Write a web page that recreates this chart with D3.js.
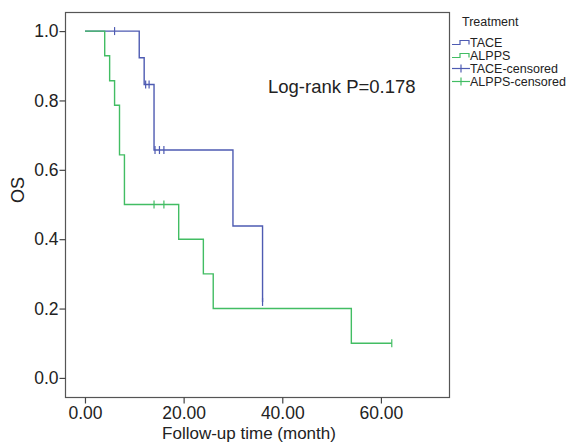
<!DOCTYPE html>
<html>
<head>
<meta charset="utf-8">
<script src="https://cdn.jsdelivr.net/npm/d3@7"></script>
<style>
  body { margin: 0; background: #fff; }
  svg text { font-family: Arial, "Liberation Sans", Helvetica, sans-serif; fill: #222; }
</style>
</head>
<body>
<div id="chart"></div>
<script>
// data
const groups = ["TACE", "ALPPS"];
const colors = ["#4e5bb2", "#42bd63"];

const taceTimes = [0, 11, 12, 14, 30, 36];
const taceSurv = [1.0, 0.923, 0.846, 0.657, 0.438, 0.219];
const taceCensored = [6, 12.3, 13, 14.2, 15.1, 16, 36];

const alppsTimes = [0, 4, 5, 6, 7, 8, 19, 24, 26, 54];
const alppsSurv = [1.0, 0.929, 0.857, 0.786, 0.643, 0.5, 0.4, 0.3, 0.2, 0.1];
const alppsCensored = [14, 16, 62.2];

const xTicks = [0, 20, 40, 60];
const yTicks = [0, 0.2, 0.4, 0.6, 0.8, 1.0];
const pValueText = "Log-rank P=0.178";
const legendLabels = ["TACE", "ALPPS", "TACE-censored", "ALPPS-censored"];

/** CONSTANTS */
const width = 574,
    height = 443,
    margin = { top: 12, bottom: 46, left: 65, right: 125 };

/** SCALES */
const xScale = d3.scaleLinear()
    .domain([-4.05, 73.8])
    .range([margin.left, width - margin.right]);

const yScale = d3.scaleLinear()
    .domain([-0.055, 1.055])
    .range([height - margin.bottom, margin.top]);

const svg = d3.select("#chart")
    .append("svg")
    .attr("width", width)
    .attr("height", height);

// frame
svg.append("rect")
    .attr("x", margin.left + 0.5)
    .attr("y", margin.top + 0.5)
    .attr("width", width - margin.right - margin.left)
    .attr("height", height - margin.bottom - margin.top)
    .attr("fill", "none")
    .attr("stroke", "#555")
    .attr("stroke-width", 1.2);

// axes
const yAxis = d3.axisLeft(yScale)
    .tickValues(yTicks)
    .tickFormat(d3.format(".1f"))
    .tickSize(6)
    .tickPadding(1);

const xAxis = d3.axisBottom(xScale)
    .tickValues(xTicks)
    .tickFormat(d3.format(".2f"))
    .tickSize(6)
    .tickPadding(3);

const gy = svg.append("g")
    .attr("transform", `translate(${margin.left + 0.5},0)`)
    .call(yAxis);
const gx = svg.append("g")
    .attr("transform", `translate(0,${height - margin.bottom + 0.5})`)
    .call(xAxis);

[gx, gy].forEach(g => {
    g.select(".domain").remove();
    g.selectAll(".tick line").attr("stroke", "#444").attr("stroke-width", 1.2);
    g.selectAll(".tick text").attr("font-size", 17.5).attr("fill", "#222");
});

// axis titles
svg.append("text")
    .attr("x", 249)
    .attr("y", 439)
    .attr("text-anchor", "middle")
    .attr("font-size", 17)
    .text("Follow-up time (month)");

svg.append("text")
    .attr("transform", "translate(24,190) rotate(-90)")
    .attr("text-anchor", "middle")
    .attr("font-size", 18)
    .text("OS");

// step function helpers
function stepPoints(times, surv, end) {
    const pts = [];
    times.forEach((t, i) => {
        if (i > 0) pts.push([t, surv[i - 1]]);
        pts.push([t, surv[i]]);
    });
    pts.push([end, surv[surv.length - 1]]);
    return pts;
}
function survAt(times, surv, t) {
    let v = surv[0];
    times.forEach((tt, i) => { if (tt <= t) v = surv[i]; });
    return v;
}

const line = d3.line()
    .x(d => xScale(d[0]))
    .y(d => yScale(d[1]));

const series = [
    { name: groups[0], times: taceTimes, surv: taceSurv, cens: taceCensored, color: colors[0] },
    { name: groups[1], times: alppsTimes, surv: alppsSurv, cens: alppsCensored, color: colors[1] }
];

series.forEach(s => {
    const end = d3.max([d3.max(s.times), d3.max(s.cens)]);
    svg.append("path")
        .datum(stepPoints(s.times, s.surv, end))
        .attr("fill", "none")
        .attr("stroke", s.color)
        .attr("stroke-width", 1.4)
        .attr("d", line);

    svg.selectAll(null)
        .data(s.cens)
        .join("line")
        .attr("x1", d => xScale(d))
        .attr("x2", d => xScale(d))
        .attr("y1", d => yScale(survAt(s.times, s.surv, d)) - 4)
        .attr("y2", d => yScale(survAt(s.times, s.surv, d)) + 4)
        .attr("stroke", s.color)
        .attr("stroke-width", 1.2);
});

// log-rank annotation
svg.append("text")
    .attr("x", 268)
    .attr("y", 93)
    .attr("font-size", 18.5)
    .text(pValueText);

// legend
const legend = svg.append("g");
legend.append("text")
    .attr("x", 462)
    .attr("y", 26)
    .attr("font-size", 12.5)
    .text("Treatment");

const legendY = [46.5, 59.5, 72.5, 85.5];
legendLabels.forEach((lab, i) => {
    const c = colors[i % 2];
    const yy = legendY[i];
    if (i < 2) {
        legend.append("path")
            .attr("d", `M452,${yy - 2} H460 V${yy - 6} H469 V${yy - 2}`)
            .attr("fill", "none")
            .attr("stroke", c)
            .attr("stroke-width", 1.2);
    } else {
        legend.append("line")
            .attr("x1", 452).attr("x2", 470)
            .attr("y1", yy - 4).attr("y2", yy - 4)
            .attr("stroke", c).attr("stroke-width", 1.2);
        legend.append("line")
            .attr("x1", 461).attr("x2", 461)
            .attr("y1", yy - 8).attr("y2", yy)
            .attr("stroke", c).attr("stroke-width", 1.2);
    }
    legend.append("text")
        .attr("x", 470)
        .attr("y", yy)
        .attr("font-size", 12.5)
        .text(lab);
});
</script>
</body>
</html>
